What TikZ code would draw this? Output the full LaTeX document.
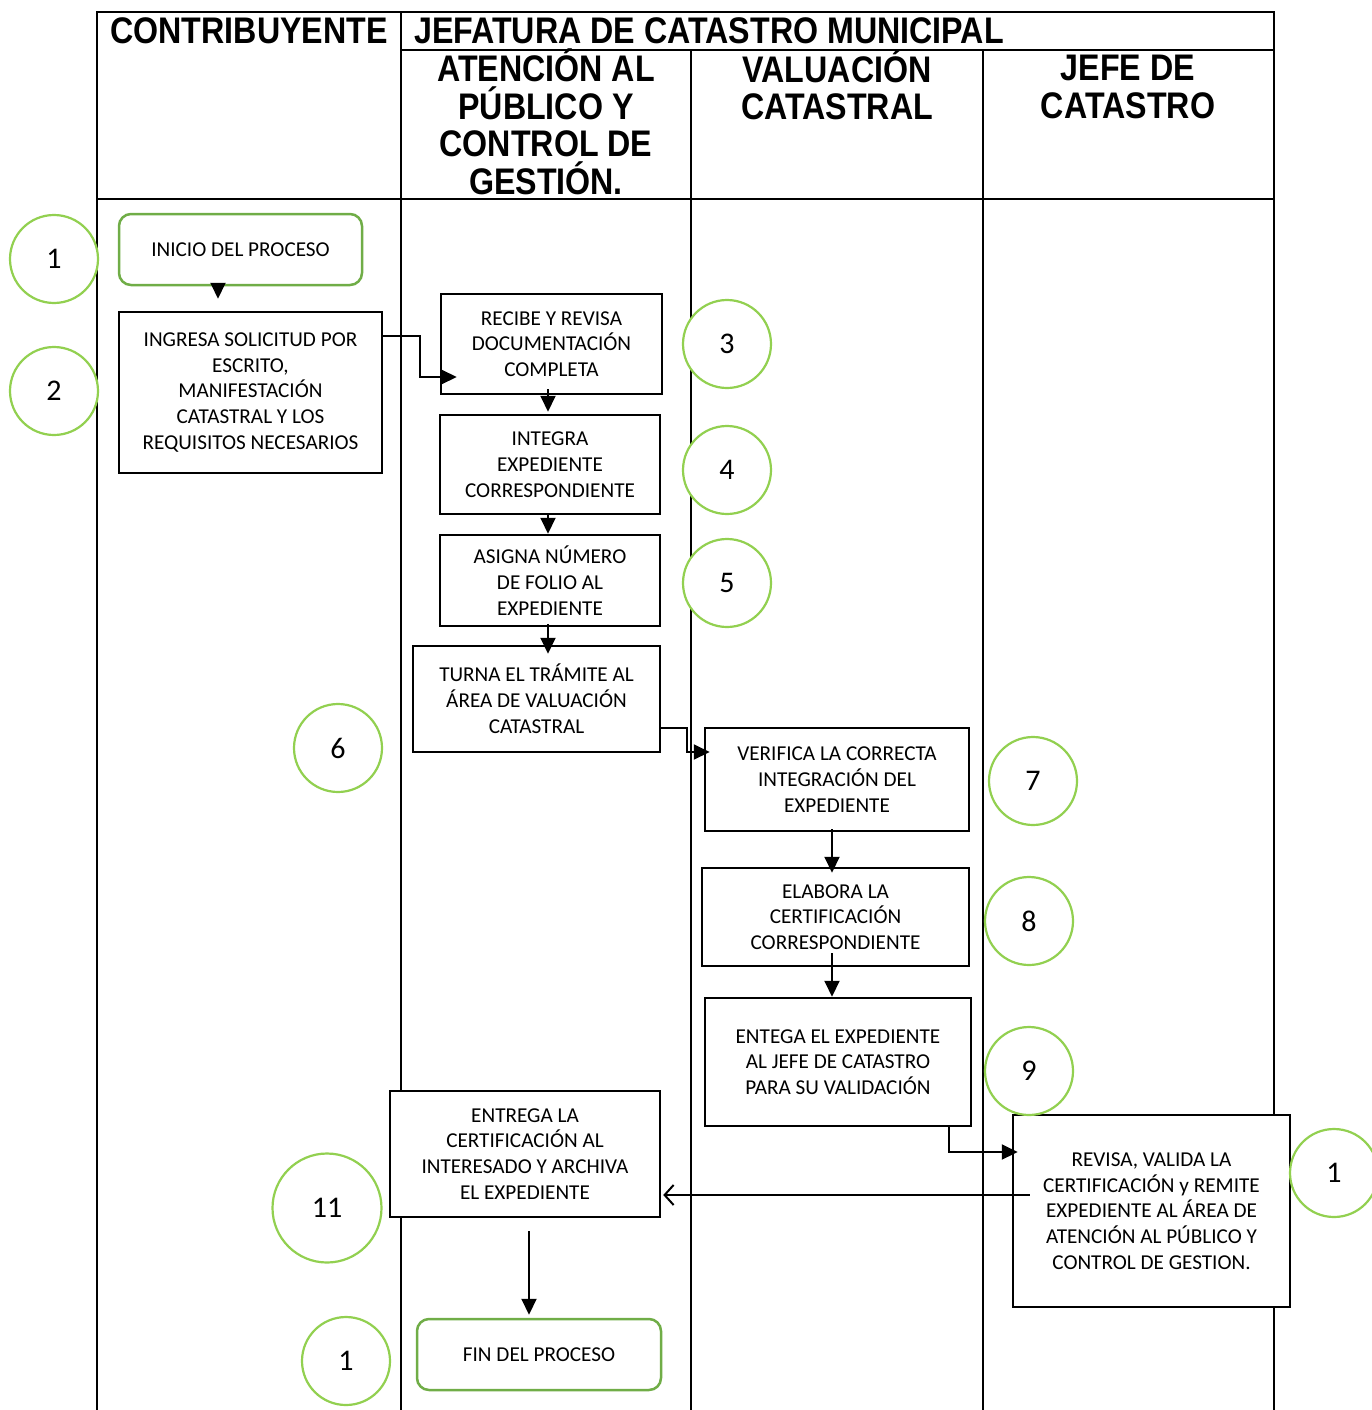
\documentclass[tikz,border=0pt]{standalone}
\usepackage{fontspec}
\setmainfont{Carlito}
\newfontfamily\headfont[FakeStretch=0.87]{Liberation Sans}
\usetikzlibrary{arrows.meta,positioning}
\definecolor{numgreen}{RGB}{146,208,80}
\definecolor{boxgreen}{RGB}{112,173,71}

\begin{document}
\begin{tikzpicture}[x=1pt,y=-1pt,>={Triangle[length=16pt,width=15pt]},
    lane/.style={line width=2pt},
    head/.style={font=\headfont\bfseries\fontsize{37}{37.5}\selectfont,align=center,inner sep=0pt},
    paso/.style={draw,fill=white,line width=2.5pt,align=center,inner sep=0pt,font=\fontsize{21.2}{25.8}\selectfont},
    limite/.style={paso,draw=boxgreen,rounded corners=12pt},
    num/.style={circle,draw=numgreen,fill=white,line width=2.2pt,minimum size=88pt,inner sep=0pt,font=\fontsize{30}{30}\selectfont},
    flecha/.style={->,line width=2pt}]

    \useasboundingbox (0,0) rectangle (1371,1410);

    % Lanes
    \draw [lane] (97,1410) -- (97,12) -- (1274,12) -- (1274,1410);
    \draw [lane] (401,12) -- (401,1410);
    \draw [lane] (401,50) -- (1274,50);
    \draw [lane] (691,50) -- (691,1410);
    \draw [lane] (983,50) -- (983,1410);
    \draw [lane] (97,199) -- (1274,199);

    % Lane titles
    \node [head] (contri) at (249,31) {CONTRIBUYENTE};
    \node [head,anchor=west] (jefatura) at (414,31) {JEFATURA DE CATASTRO MUNICIPAL};
    \node [head] (atencion) at (546,122) {ATENCIÓN AL\\PÚBLICO Y\\CONTROL DE\\GESTIÓN.};
    \node [head] (valuacion) at (837,85) {VALUACIÓN\\CATASTRAL};
    \node [head] (jefe) at (1128,87) {JEFE DE\\CATASTRO};

    % Steps
    \node [limite,minimum width=243pt,minimum height=71pt] (inicio) at (240.5,249.5) {INICIO DEL PROCESO};
    \node [paso,minimum width=263pt,minimum height=161pt] (ingresa) at (250.5,392.5)
        {INGRESA SOLICITUD POR\\ESCRITO,\\MANIFESTACIÓN\\CATASTRAL Y LOS\\REQUISITOS NECESARIOS};
    \node [paso,minimum width=221pt,minimum height=100pt] (recibe) at (551.5,344)
        {RECIBE Y REVISA\\DOCUMENTACIÓN\\COMPLETA};
    \node [paso,minimum width=220pt,minimum height=99pt] (integra) at (550,464.5)
        {INTEGRA\\EXPEDIENTE\\CORRESPONDIENTE};
    \node [paso,minimum width=220pt,minimum height=91pt] (asigna) at (550,580.5)
        {ASIGNA NÚMERO\\DE FOLIO AL\\EXPEDIENTE};
    \node [paso,minimum width=247pt,minimum height=106pt] (turna) at (536.5,699)
        {TURNA EL TRÁMITE AL\\ÁREA DE VALUACIÓN\\CATASTRAL};
    \node [paso,minimum width=264pt,minimum height=103pt] (verifica) at (837,779.5)
        {VERIFICA LA CORRECTA\\INTEGRACIÓN DEL\\EXPEDIENTE};
    \node [paso,minimum width=267pt,minimum height=98pt] (elabora) at (835.5,917)
        {ELABORA LA\\CERTIFICACIÓN\\CORRESPONDIENTE};
    \node [paso,minimum width=266pt,minimum height=128pt] (entega) at (838,1062)
        {ENTEGA EL EXPEDIENTE\\AL JEFE DE CATASTRO\\PARA SU VALIDACIÓN};
    \node [paso,minimum width=277pt,minimum height=192pt] (revisa) at (1151.5,1211)
        {REVISA, VALIDA LA\\CERTIFICACIÓN y REMITE\\EXPEDIENTE AL ÁREA DE\\ATENCIÓN AL PÚBLICO Y\\CONTROL DE GESTION.};
    \node [paso,minimum width=270pt,minimum height=126pt] (entrega) at (525,1154)
        {ENTREGA LA\\CERTIFICACIÓN AL\\INTERESADO Y ARCHIVA\\EL EXPEDIENTE};
    \node [limite,minimum width=244pt,minimum height=71pt] (fin) at (539,1354.5) {FIN DEL PROCESO};

    % Step numbers
    \node [num] (n1) at (54,259) {1};
    \node [num] (n2) at (54,391) {2};
    \node [num] (n3) at (727,344) {3};
    \node [num] (n4) at (727,470) {4};
    \node [num] (n5) at (727,583) {5};
    \node [num] (n6) at (338,748) {6};
    \node [num] (n7) at (1033,781) {7};
    \node [num] (n8) at (1029,921) {8};
    \node [num] (n9) at (1029,1071) {9};
    \node [num] (n10) at (1334,1173) {1};
    \node [num,minimum size=109pt] (n11) at (327,1208) {11};
    \node [num] (n12) at (346,1361) {1};

    % Flow
    \draw [flecha,shorten >=12pt] (inicio.south -| 218,0) -- (ingresa.north -| 218,0);
    \coordinate (codo1) at (420,377);
    \draw [flecha,shorten >=-17pt] (ingresa.east |- 0,336) -| (codo1) -- (recibe.west |- codo1);
    \draw [flecha,shorten <=-6pt,shorten >=2pt] (recibe.south -| 548,0) -- (integra.north -| 548,0);
    \draw [flecha] (integra.south -| 548,0) -- (asigna.north -| 548,0);
    \draw [flecha,shorten <=-3pt,shorten >=-9pt] (asigna.south -| 548,0) -- (turna.north -| 548,0);
    \coordinate (codo2) at (687,752);
    \draw [flecha,shorten >=-6pt] (turna.east |- 0,728) -| (codo2) -- (verifica.west |- codo2);
    \draw [flecha,shorten <=-3pt,shorten >=-6pt] (verifica.south -| 832,0) -- (elabora.north -| 832,0);
    \draw [flecha,shorten <=-14pt] (elabora.south -| 832,0) -- (entega.north -| 832,0);
    \draw [flecha,shorten >=-6pt] (entega.south -| 949,0) |- (revisa.west |- 0,1152);
    \draw [line width=2pt,-{Straight Barb[length=9pt,width=20pt]},shorten <=-18pt,shorten >=2pt]
        (revisa.west |- 0,1195) -- (entrega.east |- 0,1195);
    \draw [flecha,shorten <=13pt,shorten >=3pt] (entrega.south -| 529,0) -- (fin.north -| 529,0);

\end{tikzpicture}
\end{document}
